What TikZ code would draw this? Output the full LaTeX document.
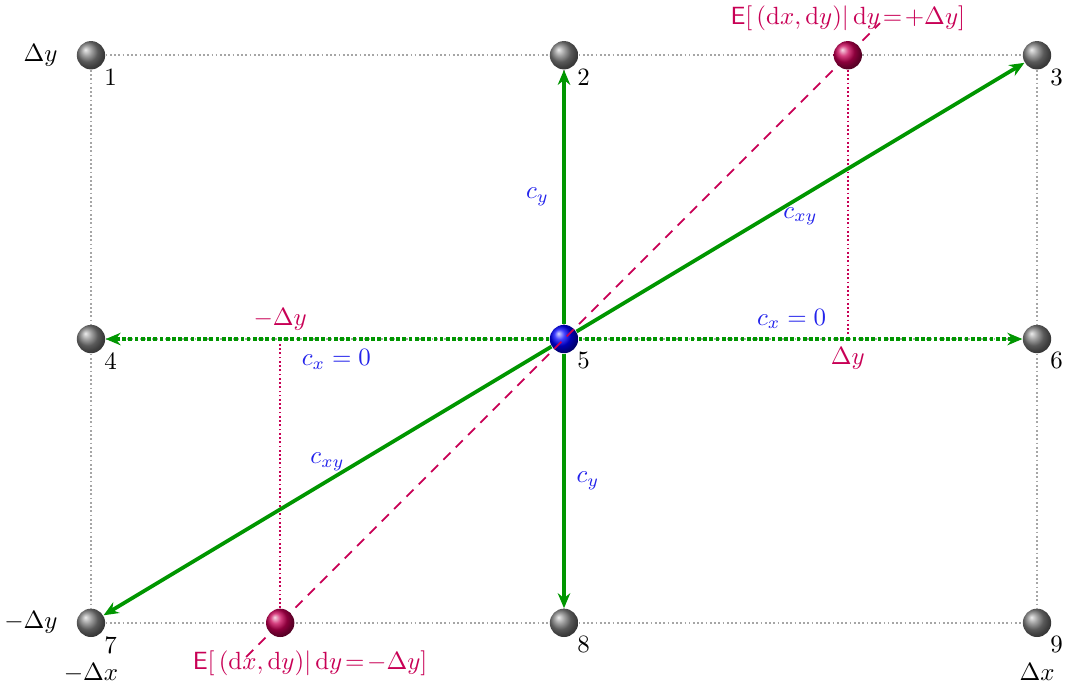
\documentclass[tikz,border=0pt]{standalone}
\usepackage{amsmath,amssymb}
\usepackage{xcolor}
\usepackage{tikz}
\usetikzlibrary{arrows.meta, positioning, shadings}
\definecolor{flowgreen}{RGB}{0, 150, 0}
\definecolor{condred}{RGB}{200, 0, 85}
\definecolor{coefblue}{RGB}{35, 35, 235}

\begin{document}
\begin{tikzpicture}[
    x=1.335cm, y=1.335cm,
    site/.style={circle, shading=ball, ball color=gray, minimum size=4mm, inner sep=0pt},
    midsite/.style={site, ball color=blue},
    condsite/.style={site, ball color=condred},
    num/.style={inner sep=1pt},
    gridline/.style={densely dotted, gray!70, line width=0.7pt},
    flow/.style={-{Stealth[length=6pt, width=5pt]}, line width=1.5pt, flowgreen},
    zeroflow/.style={flow, dash pattern=on 1.5pt off 1pt},
    condline/.style={condred, line width=0.7pt},
    coef/.style={text=coefblue},
    cond/.style={text=condred}
]
\useasboundingbox (-5.962,-3.689) rectangle (5.296,3.584);

% Lattice sites
\node[site] (n1) at (-5,3) {};
\node[site] (n2) at (0,3) {};
\node[site] (n3) at (5,3) {};
\node[site] (n4) at (-5,0) {};
\node[midsite] (n5) at (0,0) {};
\node[site] (n6) at (5,0) {};
\node[site] (n7) at (-5,-3) {};
\node[site] (n8) at (0,-3) {};
\node[site] (n9) at (5,-3) {};

% Site numbers
\node[num, below right=0pt of n1] (l1) {1};
\node[num, below right=0pt of n2] (l2) {2};
\node[num, below right=0pt of n3] (l3) {3};
\node[num, below right=0pt of n4] (l4) {4};
\node[num, below right=0pt of n5] (l5) {5};
\node[num, below right=0pt of n6] (l6) {6};
\node[num, below right=0pt of n7] (l7) {7};
\node[num, below right=0pt of n8] (l8) {8};
\node[num, below right=0pt of n9] (l9) {9};

% Axis labels
\node[left=4pt of n1] (ay1) {$\Delta y$};
\node[left=4pt of n7] (ay2) {$-\Delta y$};
\node[below=7pt of n7] (ax1) {$-\Delta x$};
\node[below=7pt of n9] (ax2) {$\Delta x$};

% Grid
\draw[gridline] (n1) -- (n2);
\draw[gridline] (n2) -- (n3);
\draw[gridline] (n4) -- (n5);
\draw[gridline] (n5) -- (n6);
\draw[gridline] (n7) -- (n8);
\draw[gridline] (n8) -- (n9);
\draw[gridline] (n1) -- (n4);
\draw[gridline] (n4) -- (n7);
\draw[gridline] (n2) -- (n5);
\draw[gridline] (n5) -- (n8);
\draw[gridline] (n3) -- (n6);
\draw[gridline] (n6) -- (n9);

% Regression line, under the conditional points
\coordinate (d1) at (3.34,3.34);
\coordinate (d2) at (-3.36,-3.36);
\draw[condline, dash pattern=on 4pt off 3pt] (d2) -- (d1);

% Conditional expectations
\node[condsite] (r1) at (3,3) {};
\node[condsite] (r2) at (-3,-3) {};
\coordinate (f1) at (3,0);
\coordinate (f2) at (-3,0);
\draw[condline, densely dotted] (r1) -- (f1);
\draw[condline, densely dotted] (r2) -- (f2);
\node[cond, below] (dy1) at (f1) {$\Delta y$};
\node[cond, above] (dy2) at (f2) {$-\Delta y$};
\node[cond, above=0.5pt of r1] (e1) {$\mathsf{E}[\,(\mathrm{d}x,\mathrm{d}y)|\,\mathrm{d}y\!=\!+\Delta y]$};
\node[cond, below=2pt of r2, xshift=12pt] (e2) {$\mathsf{E}[\,(\mathrm{d}x,\mathrm{d}y)|\,\mathrm{d}y\!=\!-\Delta y]$};

% Flows
\draw[flow] (n5) -- node[coef, left=2pt] (cy1) {$c_y$} (n2);
\draw[flow] (n5) -- node[coef, right=1pt] (cy2) {$c_y$} (n8);
\draw[flow] (n5) -- node[coef, below] (cxy1) {$c_{xy}$} (n3);
\draw[flow] (n5) -- node[coef, above] (cxy2) {$c_{xy}$} (n7);
\draw[zeroflow] (n5) -- node[coef, above, pos=0.48] (cx1) {$c_x = 0$} (n6);
\draw[zeroflow] (n5) -- node[coef, below, pos=0.48] (cx2) {$c_x = 0$} (n4);
\end{tikzpicture}
\end{document}
